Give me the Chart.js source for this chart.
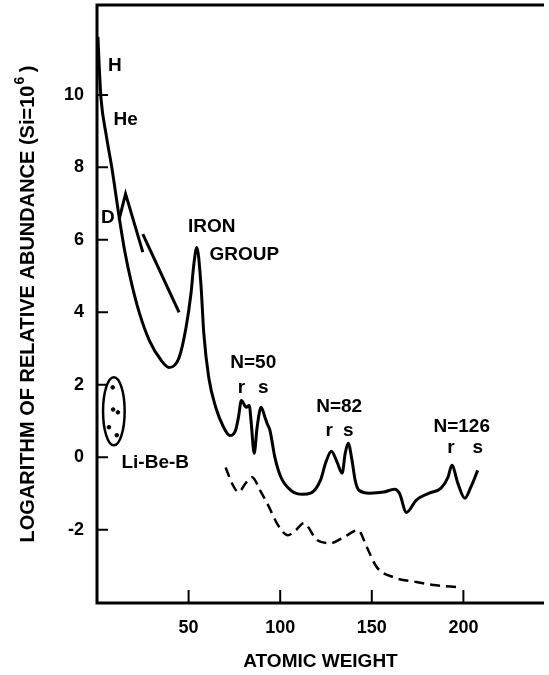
<!DOCTYPE html>
<html>
<head>
<meta charset="utf-8">
<script src="https://cdn.jsdelivr.net/npm/chart.js@4.4.0/dist/chart.umd.min.js"></script>
<style>
  html, body { margin: 0; padding: 0; background: #fff; }
  #grafico { display: block; }
</style>
</head>
<body>
<canvas id="grafico" width="549" height="675"></canvas>
<script>
// curva principal (abundancia solar)
const mainWeight = [0.5, 1.2, 2.2, 5.0, 8.1, 12.4, 15.1, 18.9, 23.2, 28.6, 35.1, 39.4, 44.8, 48.6, 51.3, 52.9, 54.5, 56.7, 58.3, 61.0,
    64.8, 69.1, 72.5, 75.6, 77.2, 78.8, 81.5, 83.1, 84.2, 85.8, 87.4, 89.6, 91.7, 92.8, 94.4, 97.1, 100.4, 105.8, 112.2, 116.6,
    122.0, 124.7, 127.9, 131.1, 133.8, 135.5, 137.1, 139.2, 140.9, 143.0, 148.9, 156.5, 162.4, 165.1, 168.9, 174.3, 181.3, 187.8,
    191.6, 193.7, 197.0, 200.8, 204.0, 207.8];
const mainLog = [11.6, 10.8, 9.9, 8.9, 7.99, 6.53, 5.70, 4.79, 3.97, 3.22, 2.67, 2.48, 2.75, 3.58, 4.52, 5.34, 5.79, 4.79, 3.42, 2.20,
    1.38, 0.83, 0.60, 0.74, 1.10, 1.57, 1.38, 1.43, 0.94, 0.11, 0.83, 1.38, 1.10, 0.94, 0.74, 0.0, -0.55, -0.91, -1.02, -0.99,
    -0.63, -0.17, 0.17, -0.14, -0.44, 0.11, 0.39, -0.08, -0.63, -0.91, -0.99, -0.96, -0.88, -0.99, -1.52, -1.18, -0.99, -0.85,
    -0.55, -0.22, -0.72, -1.13, -0.83, -0.36];

// curva tracejada
const dashWeight = [70.2, 73.9, 77.2, 81.5, 84.7, 89.0, 93.4, 98.8, 104.2, 108.5, 112.8, 120.3, 127.4, 134.9, 142.5, 147.3, 152.7,
    161.9, 174.3, 185.1, 197.0];
const dashLog = [-0.28, -0.74, -0.96, -0.69, -0.55, -0.91, -1.32, -1.87, -2.15, -2.01, -1.82, -2.29, -2.37, -2.20, -2.01, -2.48,
    -3.03, -3.31, -3.44, -3.53, -3.58];

// segmentos perto de D
const zigWeight = [12.0, 15.6, 25.0];
const zigLog = [6.55, 7.27, 5.66];
const retaWeight = [25.0, 44.8];
const retaLog = [6.16, 4.00];

// Li-Be-B
const libWeight = [8.6, 8.8, 11.4, 6.5, 10.8];
const libLog = [1.93, 1.32, 1.24, 0.83, 0.61];
const libCentro = [9.2, 1.27];
const libRaio = [5.9, 0.94];

const xTicks = [50, 100, 150, 200];
const yTicks = [-2, 0, 2, 4, 6, 8, 10];

const rotuloTexto = ['H', 'He', 'D', 'IRON', 'GROUP', 'N=50', 'r', 's', 'N=82', 'r', 's', 'N=126', 'r', 's', 'Li-Be-B'];
const rotuloWeight = [9.7, 15.6, 5.9, 62.6, 80.4, 85.3, 78.8, 90.7, 132.2, 126.8, 137.1, 199.1, 193.2, 207.8, 31.8];
const rotuloLog = [10.8, 9.31, 6.61, 6.36, 5.59, 2.62, 1.93, 1.93, 1.40, 0.72, 0.72, 0.85, 0.25, 0.25, -0.14];

const fonte = '"Liberation Sans", Arial, sans-serif';

function pontos(xs, ys) {
    return xs.map((x, i) => ({ x: x, y: ys[i] }));
}

const moldura = {
    id: 'moldura',
    afterDraw(chart) {
        const ctx = chart.ctx;
        const ca = chart.chartArea;
        const sx = chart.scales.x;
        const sy = chart.scales.y;
        ctx.save();
        ctx.strokeStyle = '#000';
        ctx.lineWidth = 3;
        ctx.lineCap = 'butt';
        ctx.beginPath();
        ctx.moveTo(ca.left - 1.5, ca.top);
        ctx.lineTo(ca.right, ca.top);
        ctx.moveTo(ca.left, ca.top);
        ctx.lineTo(ca.left, ca.bottom);
        ctx.moveTo(ca.left - 1.5, ca.bottom);
        ctx.lineTo(ca.right, ca.bottom);
        ctx.stroke();
        ctx.lineWidth = 2;
        ctx.beginPath();
        yTicks.forEach(v => {
            const py = sy.getPixelForValue(v);
            ctx.moveTo(ca.left, py);
            ctx.lineTo(ca.left + 11, py);
        });
        xTicks.forEach(v => {
            const px = sx.getPixelForValue(v);
            ctx.moveTo(px, ca.bottom);
            ctx.lineTo(px, ca.bottom - 13);
        });
        ctx.stroke();

        // titulo do eixo y com expoente
        const principal = 'LOGARITHM OF RELATIVE ABUNDANCE (Si=10';
        const fim = ' )';
        ctx.fillStyle = '#000';
        ctx.font = 'bold 20px ' + fonte;
        const w1 = ctx.measureText(principal).width;
        const w3 = ctx.measureText(fim).width;
        ctx.font = 'bold 14px ' + fonte;
        const w2 = ctx.measureText('6').width;
        const total = w1 + w2 + w3;
        ctx.translate(28, (ca.top + ca.bottom) / 2);
        ctx.rotate(-Math.PI / 2);
        ctx.textBaseline = 'middle';
        ctx.textAlign = 'left';
        let pos = -total / 2;
        ctx.font = 'bold 20px ' + fonte;
        ctx.fillText(principal, pos, 0);
        pos += w1;
        ctx.font = 'bold 14px ' + fonte;
        ctx.fillText('6', pos + 1, -8);
        pos += w2;
        ctx.font = 'bold 20px ' + fonte;
        ctx.fillText(fim, pos, 0);
        ctx.restore();
    }
};

const rotulos = {
    id: 'rotulos',
    afterDatasetsDraw(chart) {
        const ctx = chart.ctx;
        const sx = chart.scales.x;
        const sy = chart.scales.y;
        ctx.save();
        ctx.fillStyle = '#000';
        ctx.font = 'bold 19px ' + fonte;
        ctx.textAlign = 'center';
        ctx.textBaseline = 'middle';
        rotuloTexto.forEach((t, i) => {
            ctx.fillText(t, sx.getPixelForValue(rotuloWeight[i]), sy.getPixelForValue(rotuloLog[i]));
        });
        // elipse Li-Be-B
        const cx = sx.getPixelForValue(libCentro[0]);
        const cy = sy.getPixelForValue(libCentro[1]);
        const rx = sx.getPixelForValue(libCentro[0] + libRaio[0]) - cx;
        const ry = cy - sy.getPixelForValue(libCentro[1] + libRaio[1]);
        ctx.strokeStyle = '#000';
        ctx.lineWidth = 2.5;
        ctx.beginPath();
        ctx.ellipse(cx, cy, rx, ry, 0, 0, Math.PI * 2);
        ctx.stroke();
        ctx.restore();
    }
};

const ctx = document.getElementById('grafico').getContext('2d');
const chart = new Chart(ctx, {
    type: 'line',
    data: {
        datasets: [
            {
                data: pontos(mainWeight, mainLog),
                borderColor: '#000',
                borderWidth: 3,
                pointRadius: 0,
                cubicInterpolationMode: 'monotone'
            },
            {
                data: pontos(dashWeight, dashLog),
                borderColor: '#000',
                borderWidth: 2.5,
                borderDash: [10, 6],
                pointRadius: 0,
                cubicInterpolationMode: 'monotone'
            },
            {
                data: pontos(zigWeight, zigLog),
                borderColor: '#000',
                borderWidth: 3,
                pointRadius: 0,
                tension: 0
            },
            {
                data: pontos(retaWeight, retaLog),
                borderColor: '#000',
                borderWidth: 3,
                pointRadius: 0,
                tension: 0
            },
            {
                data: pontos(libWeight, libLog),
                showLine: false,
                pointRadius: 1.8,
                pointBackgroundColor: '#000',
                pointBorderColor: '#000'
            }
        ]
    },
    options: {
        responsive: false,
        animation: false,
        devicePixelRatio: 1,
        layout: { padding: { top: 4, right: 0, left: 0, bottom: 0 } },
        plugins: {
            legend: { display: false },
            tooltip: { enabled: false }
        },
        scales: {
            x: {
                type: 'linear',
                min: 0,
                max: 244,
                afterFit(scale) {
                    scale.height = 72;
                    scale.paddingLeft = 0;
                    scale.paddingRight = 0;
                },
                afterBuildTicks(scale) { scale.ticks = xTicks.map(v => ({ value: v })); },
                grid: { display: false, drawTicks: false },
                border: { display: false },
                ticks: {
                    color: '#000',
                    padding: 14,
                    maxRotation: 0,
                    autoSkip: false,
                    font: { family: fonte, size: 18, weight: 'bold' }
                },
                title: {
                    display: true,
                    text: 'ATOMIC WEIGHT',
                    color: '#000',
                    padding: { top: 0, bottom: 2 },
                    font: { family: fonte, size: 19, weight: 'bold' }
                }
            },
            y: {
                type: 'linear',
                min: -4.02,
                max: 12.48,
                afterFit(scale) {
                    scale.width = 97;
                    scale.paddingTop = 0;
                    scale.paddingBottom = 0;
                },
                afterBuildTicks(scale) { scale.ticks = yTicks.map(v => ({ value: v })); },
                grid: { display: false, drawTicks: false },
                border: { display: false },
                ticks: {
                    color: '#000',
                    padding: 13,
                    autoSkip: false,
                    font: { family: fonte, size: 18, weight: 'bold' }
                }
            }
        }
    },
    plugins: [moldura, rotulos]
});
</script>
</body>
</html>
